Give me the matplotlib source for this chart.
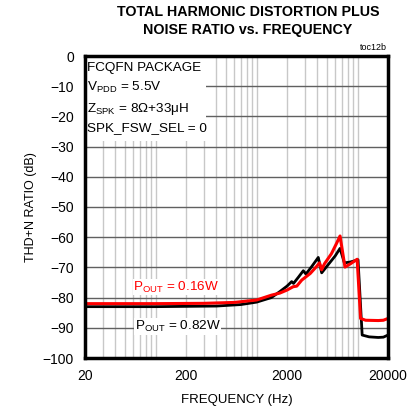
import numpy as np
import matplotlib
matplotlib.use("Agg")
import matplotlib.pyplot as plt
from matplotlib.patches import Rectangle

plt.rcParams['font.family'] = ['Liberation Sans', 'DejaVu Sans']
plt.rcParams['mathtext.fontset'] = 'custom'
plt.rcParams['mathtext.rm'] = 'Liberation Sans'

# red curve, POUT = 0.16W
f_red = [20, 100, 300, 600, 1000, 1400, 1700, 2000, 2300, 2500, 2800, 3400, 3900, 4200,
         4400, 4700, 5500, 6200, 6700, 7500, 8500, 9900, 10700, 12000, 16000, 18000, 20000]
thd_red = [-82.0, -82.0, -81.9, -81.6, -80.8, -79.2, -78.5, -77.5, -76.4, -76.2, -74.2, -72.0, -69.8, -68.5,
           -70.8, -68.8, -65.5, -62.0, -59.6, -69.9, -68.8, -67.3, -86.9, -87.5, -87.6, -87.5, -86.9]

# black curve, POUT = 0.82W
f_blk = [20, 100, 400, 700, 1000, 1400, 1700, 2000, 2225, 2320, 2600, 2900, 3080, 3500, 4080,
         4410, 5000, 6000, 6700, 7400, 8500, 10100, 11100, 13000, 16000, 18000, 20000]
thd_blk = [-83.0, -83.0, -82.8, -82.3, -81.5, -80.0, -78.0, -76.2, -74.7, -75.3, -73.2, -71.1, -72.2, -69.8, -66.7,
           -71.8, -69.5, -66.2, -63.7, -68.5, -68.2, -67.5, -92.4, -93.0, -93.2, -93.1, -92.4]

yticks = [0, -10, -20, -30, -40, -50, -60, -70, -80, -90, -100]
xticks = [20, 200, 2000, 20000]

fig = plt.figure(figsize=(4.16, 4.17), dpi=100)
ax = fig.add_axes([85/416, 1 - 358/417, 303/416, 302/417])

ax.set_xscale('log')
ax.set_xlim(20, 20000)
ax.set_ylim(-100, 0)
ax.set_axisbelow(True)

# grid: light vertical, darker horizontal
minor = [m * d for d in [10, 100, 1000, 10000] for m in range(1, 10) if 20 < m * d < 20000]
for xv in minor:
    ax.axvline(xv, color='#c8c8c8', lw=1.0, zorder=0.5)
for yv in yticks[1:-1]:
    ax.axhline(yv, color='#606060', lw=1.0, zorder=0.6)

# white box behind the condition text
ax.add_patch(Rectangle((0, 0.72), 0.40, 0.28, transform=ax.transAxes,
                       facecolor='white', edgecolor='none', zorder=1))

ax.plot(f_blk, thd_blk, color='black', lw=2.0, zorder=3)
ax.plot(f_red, thd_red, color='#ff0000', lw=2.2, zorder=4)

ax.set_xticks(xticks)
ax.set_xticklabels([str(x) for x in xticks])
ax.set_yticks(yticks)
ax.minorticks_off()
ax.tick_params(length=0, labelsize=10, pad=8)
for s in ax.spines.values():
    s.set_linewidth(2.5)
    s.set_zorder(5)

ax.set_xlabel('FREQUENCY (Hz)', fontsize=9.5, labelpad=8)
ax.set_ylabel('THD+N RATIO (dB)', fontsize=9, labelpad=4)

tx = 0.008
fs = 9.7
ax.text(tx, 0.96, 'FCQFN PACKAGE', transform=ax.transAxes, fontsize=fs, va='center', zorder=6)
ax.text(tx, 0.895, r'V$_{\mathregular{PDD}}$ = 5.5V', transform=ax.transAxes, fontsize=fs, va='center', zorder=6)
ax.text(tx, 0.825, r'Z$_{\mathregular{SPK}}$ = 8Ω+33μH', transform=ax.transAxes, fontsize=fs, va='center', zorder=6)
ax.text(tx, 0.76, 'SPK_FSW_SEL = 0', transform=ax.transAxes, fontsize=fs, va='center', zorder=6)

ax.text(60, -76.5, r'P$_{\mathregular{OUT}}$ = 0.16W', color='#ff0000', fontsize=fs, va='center', zorder=6,
        bbox=dict(facecolor='white', edgecolor='none', pad=0.5))
ax.text(62, -89.5, r'P$_{\mathregular{OUT}}$ = 0.82W', color='black', fontsize=fs, va='center', zorder=6,
        bbox=dict(facecolor='white', edgecolor='none', pad=0.5))

fig.text(248/416, 1 - 21/417, 'TOTAL HARMONIC DISTORTION PLUS\nNOISE RATIO vs. FREQUENCY',
         ha='center', va='center', fontsize=10.3, fontweight='bold', linespacing=1.3)
fig.text(387/416, 1 - 47/417, 'toc12b', ha='right', va='center', fontsize=6.5)

fig.savefig('out.png', dpi=100)
